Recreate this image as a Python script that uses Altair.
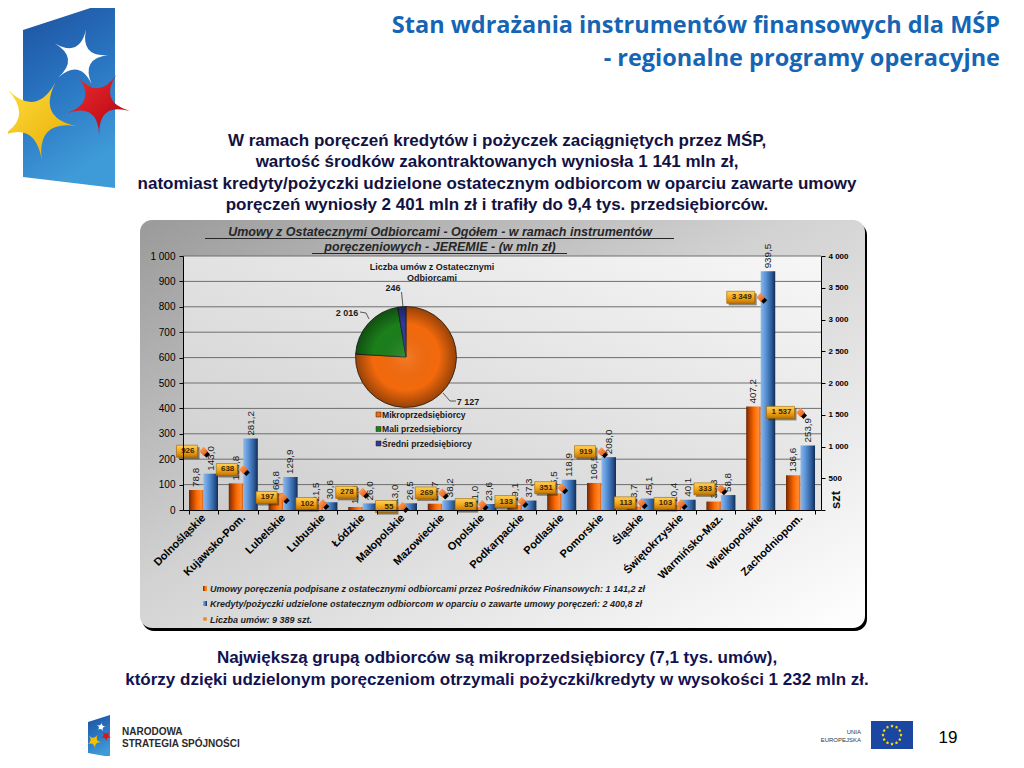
import math
import altair as alt
import pandas as pd

# ---------------- data ----------------
regions = ["Dolnośląskie", "Kujawsko-Pom.", "Lubelskie", "Lubuskie", "Łódzkie", "Małopolskie",
           "Mazowieckie", "Opolskie", "Podkarpackie", "Podlaskie", "Pomorskie", "Śląskie",
           "Świętokrzyskie", "Warmińsko-Maz.", "Wielkopolskie", "Zachodniopom."]
umowy = [78.8, 104.8, 66.8, 21.5, 11.9, 13.0, 24.7, 11.0, 19.1, 65.5, 106.5, 13.7, 20.4, 33.3, 407.2, 136.6]
kredyty = [143.0, 281.2, 129.9, 30.6, 26.0, 26.5, 38.2, 23.6, 37.3, 118.9, 208.0, 45.1, 40.1, 58.8, 939.5, 253.9]
liczba = [926, 638, 197, 102, 278, 55, 269, 85, 133, 351, 919, 113, 103, 333, 3349, 1537]

pie_cats = ["Mikroprzedsiębiorcy", "Mali przedsiębiorcy", "Średni przedsiębiorcy"]
pie_vals = [7127, 2016, 246]
pie_colors = ["#f46a0c", "#1b7f1b", "#2f3a9c"]

left_ticks = [0, 100, 200, 300, 400, 500, 600, 700, 800, 900, 1000]
right_ticks = [0, 500, 1000, 1500, 2000, 2500, 3000, 3500, 4000]

title1 = "Stan wdrażania instrumentów finansowych dla MŚP"
title2 = "- regionalne programy operacyjne"
para = ["W ramach poręczeń kredytów i pożyczek zaciągniętych przez MŚP,",
        "wartość środków zakontraktowanych wyniosła 1 141 mln zł,",
        "natomiast kredyty/pożyczki udzielone ostatecznym odbiorcom w oparciu zawarte umowy",
        "poręczeń wyniosły 2 401 mln zł i trafiły do 9,4 tys. przedsiębiorców."]
chart_title = ["Umowy z Ostatecznymi Odbiorcami  - Ogółem -  w ramach instrumentów",
               "poręczeniowych - JEREMIE - (w mln zł)"]
pie_title = ["Liczba umów z Ostatecznymi", "Odbiorcami"]
legend_lines = ["Umowy poręczenia podpisane z ostatecznymi odbiorcami przez Pośredników Finansowych: 1 141,2 zł",
                "Kredyty/pożyczki udzielone ostatecznym odbiorcom w oparciu o zawarte umowy poręczeń: 2 400,8 zł",
                "Liczba umów: 9 389 szt."]
bottom = ["Największą grupą odbiorców są mikroprzedsiębiorcy (7,1 tys. umów),",
          "którzy dzięki udzielonym poręczeniom otrzymali pożyczki/kredyty w wysokości 1 232 mln zł."]

# ---------------- helpers ----------------
X0, Y0 = 183, 256
W, H = 638, 254
FONT = "Liberation Sans, Arial, Helvetica, sans-serif"
TFONT = "Open Sans, Liberation Sans, sans-serif"
one = pd.DataFrame({"a": [0]})


def fmt_pl(v):
    return f"{v:.1f}".replace(".", ",")


def fmt_int(v):
    return f"{v:,}".replace(",", " ")


def vx(x):
    return alt.value(x - X0)


def vy(y):
    return alt.value(y - Y0)


def lg(stops, x1=0, y1=0, x2=1, y2=0):
    return alt.LinearGradient(gradient="linear",
                              stops=[alt.GradientStop(color=c, offset=o) for o, c in stops],
                              x1=x1, y1=y1, x2=x2, y2=y2)


def rg(stops):
    return alt.RadialGradient(gradient="radial",
                              stops=[alt.GradientStop(color=c, offset=o) for o, c in stops],
                              x1=0.5, y1=0.5, x2=0.5, y2=0.5, r1=0, r2=0.5)


def text(x, y, s, size=10, weight="normal", style="normal", color="#000", align="left",
         baseline="alphabetic", angle=0, font=FONT):
    return alt.Chart(one).mark_text(text=s, fontSize=size, fontWeight=weight, fontStyle=style,
                                    color=color, align=align, baseline=baseline, font=font,
                                    angle=angle).encode(x=vx(x), y=vy(y))


def rect(x1, y1, x2, y2, fill, **kw):
    return alt.Chart(one).mark_rect(fill=fill, opacity=1, **kw).encode(
        x=vx(x1), x2=vx(x2), y=vy(y1), y2=vy(y2))


def line(x1, y1, x2, y2, color="#222", width=1):
    return alt.Chart(one).mark_rule(color=color, strokeWidth=width).encode(
        x=vx(x1), x2=vx(x2), y=vy(y1), y2=vy(y2))


def hline(x1, x2, y, color="#222", width=1):
    return alt.Chart(one).mark_rule(color=color, strokeWidth=width).encode(
        x=vx(x1), x2=vx(x2), y=vy(y))


def shape(d, fill, **kw):
    return alt.Chart(one).mark_point(shape=d, size=4, filled=True, fill=fill, opacity=1,
                                     **kw).encode(x=alt.value(0), y=alt.value(0))


def poly(points):
    return "M" + " L".join(f"{x - X0:.1f},{y - Y0:.1f}" for x, y in points) + " Z"


def star(cx, cy, R, rot, k=0.02):
    d = ""
    for i in range(5):
        a = math.radians(rot + i * 72)
        ox, oy = cx + R * math.sin(a) - X0, cy - R * math.cos(a) - Y0
        b = math.radians(rot + i * 72 + 36)
        ix, iy = cx + k * R * math.sin(b) - X0, cy - k * R * math.cos(b) - Y0
        a2 = math.radians(rot + (i + 1) * 72)
        nx, ny = cx + R * math.sin(a2) - X0, cy - R * math.cos(a2) - Y0
        if i == 0:
            d += f"M{ox:.1f},{oy:.1f} "
        d += f"Q{ix:.1f},{iy:.1f} {nx:.1f},{ny:.1f} "
    return d + "Z"


layers = []

# ---------------- slide decoration ----------------
blue_grad = lg([(0, "#1c4f9e"), (0.55, "#2a76c2"), (1, "#3f9ad8")], x1=0, y1=0, x2=0.3, y2=1)
layers.append(shape(poly([(23, 30), (115, 0), (115, 188), (23, 177)]), blue_grad, strokeWidth=0))
layers.append(shape(star(80, 58, 29, 12), "#ffffff", strokeWidth=0))
layers.append(shape(star(98, 102, 33, 34), lg([(0, "#f03030"), (1, "#b00010")], 0, 0, 1, 1), strokeWidth=0))
layers.append(shape(star(36, 119, 42, 28), lg([(0, "#ffe040"), (1, "#e8a800")], 0, 0, 1, 1), strokeWidth=0))

layers.append(text(1000, 33, title1, size=23.5, weight="bold", color="#1665b4", align="right", font=TFONT))
layers.append(text(1000, 66, title2, size=23.5, weight="bold", color="#1665b4", align="right", font=TFONT))

for i, s in enumerate(para):
    layers.append(text(497, 146 + i * 21.3, s, size=17, weight="bold", color="#121242", align="center"))

# ---------------- panel ----------------
layers.append(rect(142, 223, 867, 631, "#000000", cornerRadius=12))
layers.append(rect(140, 220, 865, 628,
                   lg([(0, "#9a9a9a"), (0.45, "#d2d2d2"), (1, "#ffffff")], 0, 0, 1, 1),
                   cornerRadius=12))
layers.append(text(440, 236, chart_title[0], size=12.5, weight="bold", style="italic",
                   color="#262626", align="center"))
layers.append(text(440, 251, chart_title[1], size=12.5, weight="bold", style="italic",
                   color="#262626", align="center"))
layers.append(hline(205, 674, 238.5, "#262626", 1))
layers.append(hline(312, 567, 253.5, "#262626", 1))

layers.append(rect(183, 256, 821, 510, lg([(0, "#cdcdcd"), (1, "#f7f7f7")], 0, 1, 1, 0)))

# ---------------- scales / axes ----------------
ys_l = alt.Scale(domain=[0, 1000], nice=False)
ys_r = alt.Scale(domain=[0, 4000], nice=False)
XS = alt.Scale(domain=regions, paddingInner=0.27, paddingOuter=0.15)
xax = alt.Axis(title=None, labelAngle=-45, labelAlign="right", labelBaseline="middle",
               labelFont=FONT, labelFontSize=11, labelFontWeight="bold", labelColor="#000",
               domainColor="#000", tickColor="#000", tickSize=4, tickBand="extent",
               labelPadding=2, labelOverlap=False, zindex=1)
X = alt.X("region:N", scale=XS, axis=xax)
XO = alt.XOffset("s:N", scale=alt.Scale(domain=["o", "b"], paddingInner=0, paddingOuter=0))
yax_l = alt.Axis(title=None, values=left_ticks, grid=False,
                 labelExpr="replace(format(datum.value, ','), ',', ' ')",
                 labelFont=FONT, labelFontSize=10, labelColor="#000", domainColor="#000",
                 tickColor="#000", tickSize=4, labelPadding=4, zindex=1)
yax_r = alt.Axis(title=None, orient="right", values=right_ticks, grid=False,
                 labelExpr="datum.value == 0 ? '' : replace(format(datum.value, ','), ',', ' ')",
                 labelFont=FONT, labelFontSize=8, labelFontWeight="bold", labelColor="#000",
                 domainColor="#000", tickColor="#000", tickSize=4, labelPadding=3, zindex=1)

# gridlines
grid_df = pd.DataFrame({"g": left_ticks[1:]})
layers.append(alt.Chart(grid_df).mark_rule(color="#6e6e6e", strokeWidth=1).encode(
    y=alt.Y("g:Q", scale=ys_l, axis=None)))

# ---------------- pie ----------------
PCX, PCY, PR = 406, 357, 50.5
pie_df = pd.DataFrame({"cat": pie_cats, "v": pie_vals, "o": [0, 1, 2]})
layers.append(alt.Chart(pie_df).mark_arc(radius=PR, stroke="#1a1a1a", strokeWidth=0.7, opacity=1).encode(
    theta=alt.Theta("v:Q", stack=True),
    color=alt.Color("cat:N", scale=alt.Scale(domain=pie_cats, range=pie_colors), legend=None),
    order=alt.Order("o:Q"),
    x=vx(PCX), y=vy(PCY)))
layers.append(alt.Chart(one).mark_point(shape="circle", size=(2 * PR) ** 2, filled=True, opacity=1,
                                        fill=rg([(0, "rgba(255,255,255,0.12)"), (0.65, "rgba(0,0,0,0)"),
                                                 (1, "rgba(0,0,0,0.38)")]),
                                        strokeWidth=0).encode(x=vx(PCX), y=vy(PCY)))
layers.append(text(432, 270, pie_title[0], size=9, weight="bold", color="#1a1a1a", align="center"))
layers.append(text(432, 281, pie_title[1], size=9, weight="bold", color="#1a1a1a", align="center"))
layers.append(text(393, 291, fmt_int(pie_vals[2]), size=9, weight="bold", color="#1a1a1a", align="center"))
layers.append(text(347, 316, fmt_int(pie_vals[1]), size=9, weight="bold", color="#1a1a1a", align="center"))
layers.append(text(468, 405, fmt_int(pie_vals[0]), size=9, weight="bold", color="#1a1a1a", align="center"))
layers.append(line(401.5, 292, 403, 307, "#333", 0.8))
layers.append(line(360, 312, 366, 313, "#333", 0.8))
layers.append(line(366, 313, 369, 319, "#333", 0.8))
layers.append(line(443, 393, 450, 401, "#333", 0.8))
layers.append(line(450, 401, 456, 401, "#333", 0.8))
for i, c in enumerate(pie_cats):
    yy = 415 + i * 14.5
    layers.append(rect(376, yy - 3, 381, yy + 2, pie_colors[i], stroke="#222", strokeWidth=0.5))
    layers.append(text(382, yy + 2.5, c, size=8.6, weight="bold", color="#1a1a1a"))

# ---------------- bars ----------------
df_o = pd.DataFrame({"region": regions, "v": umowy, "s": "o", "lab": [fmt_pl(v) for v in umowy]})
df_b = pd.DataFrame({"region": regions, "v": kredyty, "s": "b", "lab": [fmt_pl(v) for v in kredyty]})

orange_grad = lg([(0, "#6e2600"), (0.2, "#b04000"), (0.55, "#ff6a00"), (0.85, "#ff8c38"), (1, "#d45400")])
blue_grad2 = lg([(0, "#8cb8ec"), (0.35, "#5a92d6"), (0.75, "#2c5a98"), (1, "#132c52")])

layers.append(alt.Chart(df_o).mark_bar(fill=orange_grad, opacity=1).encode(
    x=X, xOffset=XO, y=alt.Y("v:Q", scale=ys_l, axis=yax_l)))
layers.append(alt.Chart(df_b).mark_bar(fill=blue_grad2, opacity=1).encode(
    x=X, xOffset=XO, y=alt.Y("v:Q", scale=ys_l, axis=None)))
for d in (df_o, df_b):
    layers.append(alt.Chart(d).mark_text(angle=270, align="left", baseline="middle", dx=3,
                                         fontSize=9.8, font=FONT, color="#1a1a1a").encode(
        x=X, xOffset=XO, y=alt.Y("v:Q", scale=ys_l, axis=None), text="lab:N"))

# ---------------- counts (right axis) ----------------
box_short = "M-27,-6 H-6 V6 H-27 Z"
box_long = "M-34,-6 H-6 V6 H-34 Z"
sh_short = "M-25,-4 H-4 V8 H-25 Z"
sh_long = "M-32,-4 H-4 V8 H-32 Z"
df_c = pd.DataFrame({"region": regions, "n": liczba, "lab": [fmt_int(n) for n in liczba]})
df_c["box"] = [box_long if n >= 1000 else box_short for n in liczba]
df_c["sh"] = [sh_long if n >= 1000 else sh_short for n in liczba]
YR = alt.Y("n:Q", scale=ys_r, axis=None)

layers.append(alt.Chart(df_c).mark_point(size=4, filled=True, fill="#3a2a10", opacity=0.55, strokeWidth=0).encode(
    x=X, y=YR, shape=alt.Shape("sh:N", scale=None, legend=None)))
layers.append(alt.Chart(df_c).mark_point(size=4, filled=True, opacity=1, stroke="#9a6400", strokeWidth=0.6,
                                         fill=lg([(0, "#ffd25a"), (0.5, "#f3a81c"), (1, "#c27400")], 0, 0, 0, 1)).encode(
    x=X, y=YR, shape=alt.Shape("box:N", scale=None, legend=None)))
layers.append(alt.Chart(df_c).mark_text(align="right", baseline="middle", dx=-9, fontSize=8,
                                        fontWeight="bold", font=FONT, color="#3a2600").encode(
    x=X, y=YR, text="lab:N"))
layers.append(alt.Chart(df_c).mark_point(shape="M3,-0.5 L6.5,3 L3,6.5 L-0.5,3 Z", size=4, filled=True,
                                         fill="#000000", opacity=1, strokeWidth=0).encode(x=X, y=YR))
layers.append(alt.Chart(df_c).mark_point(shape="M0,-4.5 L4.5,0 L0,4.5 L-4.5,0 Z", size=4, filled=True,
                                         fill=lg([(0, "#ffb478"), (1, "#e04e00")], 0, 0, 1, 1),
                                         opacity=1, strokeWidth=0).encode(
    x=X, y=alt.Y("n:Q", scale=ys_r, axis=yax_r)))
layers.append(text(836, 500, "szt", size=13, weight="bold", color="#111", align="center",
                   baseline="middle", angle=270))

# ---------------- chart legend ----------------
layers.append(rect(203, 586, 207, 591, orange_grad))
layers.append(rect(203, 601, 207, 606, blue_grad2))
layers.append(alt.Chart(one).mark_point(shape="circle", size=18, filled=True, fill="#f28a30", opacity=1,
                                        strokeWidth=0).encode(x=vx(205), y=vy(619)))
for i, s in enumerate(legend_lines):
    layers.append(text(210, 592 + i * 15.3, s, size=9, weight="bold", style="italic", color="#1e1e1e"))

# ---------------- bottom text & footer ----------------
layers.append(text(497, 663, bottom[0], size=17, weight="bold", color="#121250", align="center"))
layers.append(text(497, 685, bottom[1], size=17, weight="bold", color="#121250", align="center"))

layers.append(shape(poly([(88, 722), (110, 715), (110, 757), (88, 753)]), blue_grad, strokeWidth=0))
layers.append(shape(star(101, 727, 5, 10), "#ffffff", strokeWidth=0))
layers.append(shape(star(106, 736, 6, 34), "#d8141c", strokeWidth=0))
layers.append(shape(star(94, 741, 8, 28), "#f5c000", strokeWidth=0))
layers.append(text(122, 735, "NARODOWA", size=10, weight="bold", color="#2b2b2b"))
layers.append(text(122, 747, "STRATEGIA SPÓJNOŚCI", size=10, weight="bold", color="#2b2b2b"))

layers.append(text(861, 734, "UNIA", size=6, color="#333", align="right"))
layers.append(text(861, 742, "EUROPEJSKA", size=6, color="#333", align="right"))
layers.append(rect(871, 721, 913, 749, "#1b47a3"))
eu = " ".join(star(892 + 9 * math.sin(math.radians(a)), 735 - 9 * math.cos(math.radians(a)), 1.7, 0, 0.35)
              for a in range(0, 360, 30))
layers.append(shape(eu, "#ffdd00", strokeWidth=0))
layers.append(text(948, 743, "19", size=17, color="#000", align="center"))

chart = alt.layer(*layers).resolve_scale(y="independent").properties(
    width=W, height=H,
    padding={"left": 175, "top": 248, "right": 187, "bottom": 246},
    autosize=alt.AutoSizeParams(type="none"),
).configure_view(strokeWidth=0)

chart.save("out.html", embed_options={"renderer": "svg", "actions": False})
